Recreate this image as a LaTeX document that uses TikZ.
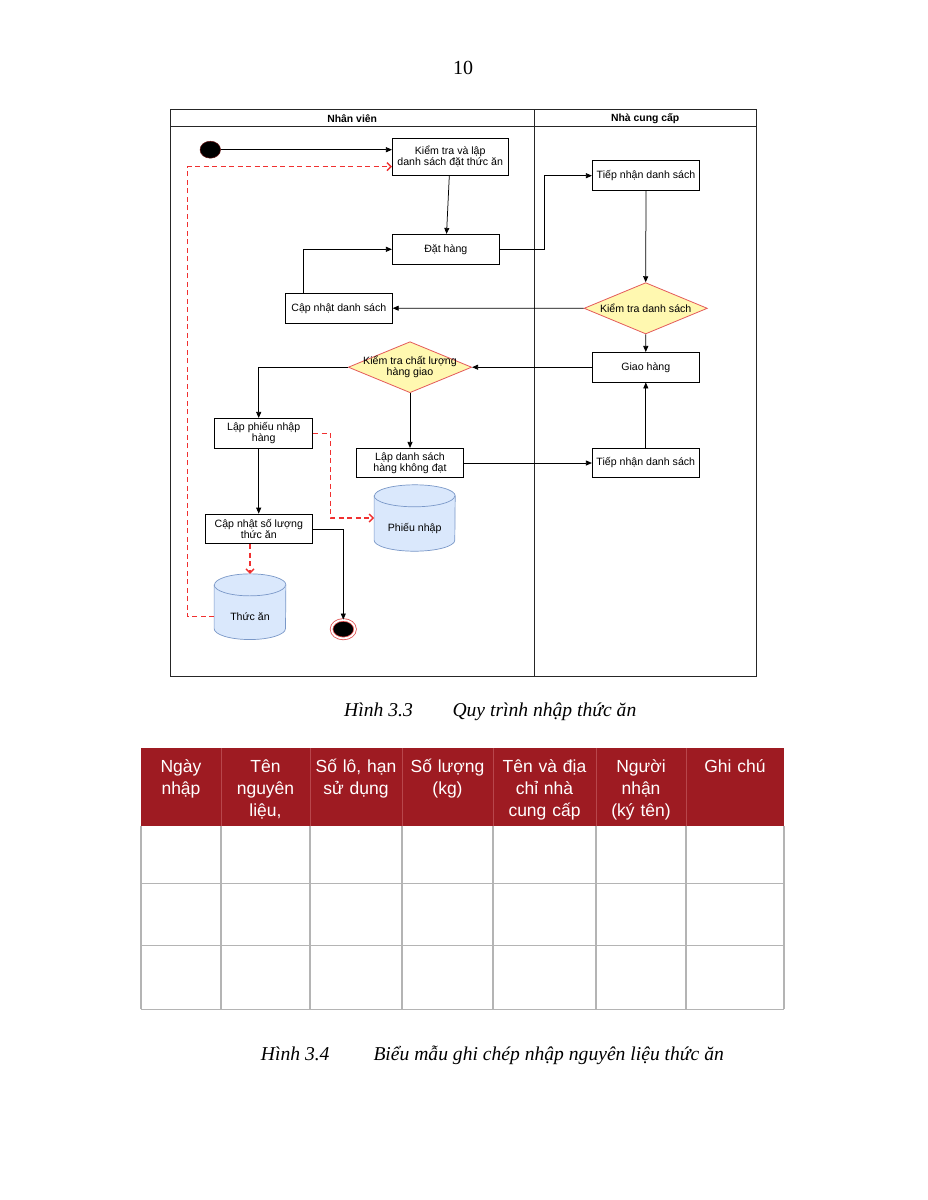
\documentclass[tikz,border=0pt]{standalone}
\usepackage{fontspec}
\setmainfont{Liberation Serif}
\newfontfamily\arialf{Liberation Sans}
\usetikzlibrary{shapes.geometric,arrows.meta,backgrounds}
\definecolor{hdrred}{HTML}{9E1B22}
\definecolor{hdrsep}{HTML}{B8464C}
\definecolor{gridgray}{HTML}{B4B4B4}
\definecolor{diafill}{HTML}{FFF8B0}
\definecolor{diaborder}{HTML}{E45A5A}
\definecolor{cylfill}{HTML}{DAE8FC}
\definecolor{cylborder}{HTML}{7A98C8}
\definecolor{dashred}{HTML}{F03030}
\definecolor{endred}{HTML}{E05050}
\definecolor{startborder}{HTML}{661010}
\newcommand\mycyl[3]{%
  \fill[cylfill] ([yshift=-#3pt]#1.north west) -- ([yshift=#3pt]#1.south west)
    arc[start angle=180,end angle=360,x radius=#2pt,y radius=#3pt]
    -- ([yshift=-#3pt]#1.north east)
    arc[start angle=0,end angle=180,x radius=#2pt,y radius=#3pt] -- cycle;
  \draw[cylborder,line width=0.7pt] ([yshift=-#3pt]#1.north west) -- ([yshift=#3pt]#1.south west)
    arc[start angle=180,end angle=360,x radius=#2pt,y radius=#3pt]
    -- ([yshift=-#3pt]#1.north east)
    arc[start angle=0,end angle=180,x radius=#2pt,y radius=#3pt] -- cycle;
  \draw[cylborder,line width=0.7pt] ([yshift=-#3pt]#1.north west)
    arc[start angle=180,end angle=360,x radius=#2pt,y radius=#3pt];
}
\begin{document}
\begin{tikzpicture}[x=1pt,y=-1pt,
  dfont/.style={font=\arialf\fontsize{10.6}{11}\selectfont},
  box/.style={draw, line width=0.75pt, fill=white, inner sep=1pt, align=center, dfont},
  dia/.style={diamond, draw=diaborder, fill=diafill, line width=0.8pt, inner sep=0pt},
  dtext/.style={align=center, inner sep=0pt, dfont},
  cylnode/.style={rectangle, inner sep=0pt},
  arr/.style={-{Triangle[length=6pt,width=5pt]}, line width=0.75pt},
  darr/.style={-{Straight Barb[length=4pt,width=8pt]}, dashred, line width=1.4pt, dash pattern=on 5pt off 3.5pt},
  lanest/.style={line width=0.9pt, black!85},
  thcell/.style={anchor=north, align=center, inner sep=0pt, text=white,
    font=\arialf\fontsize{17.5}{22}\selectfont},
  captxt/.style={font=\itshape\fontsize{19.6}{24}\selectfont, inner sep=0pt}
]
\useasboundingbox (0,0) rectangle (927,1200);

% page number
\node[font=\fontsize{20}{24}\selectfont, inner sep=0pt] (pg) at (463,68) {10};

% swimlanes
\draw[lanest] (170,109.7) rectangle (756,676);
\draw[lanest] (170,126.7) -- (756,126.7);
\draw[lanest] (534.5,109.7) -- (534.5,676);
\node[font=\arialf\bfseries\fontsize{10.4}{12}\selectfont, inner sep=0pt] (l1) at (352.2,118.2) {Nhân viên};
\node[font=\arialf\bfseries\fontsize{10.4}{12}\selectfont, inner sep=0pt] (l2) at (645.2,118.2) {Nhà cung cấp};

% nodes
\node[ellipse, fill=black, draw=startborder, line width=0.5pt, minimum width=20.5pt, minimum height=17pt, inner sep=0pt] (start) at (210.3,149.7) {};
\node[box, minimum width=115.7pt, minimum height=37.4pt] (box1) at (450.2,157) {Kiểm tra và lập\\danh sách đặt thức ăn};
\node[box, minimum width=107pt, minimum height=30pt] (order) at (445.8,249.3) {Đặt hàng};
\node[box, minimum width=107pt, minimum height=29.7pt] (upd) at (338.8,308.2) {Cập nhật danh sách};
\node[box, minimum width=107.4pt, minimum height=30pt] (recv1) at (646,175.7) {Tiếp nhận danh sách};
\node[dia, minimum width=123.3pt, minimum height=51.3pt,
  label={[dtext]center:Kiểm tra danh sách}] (chk) at (645.7,308.3) {};
\node[box, minimum width=107pt, minimum height=29.7pt] (deliv) at (645.8,367.2) {Giao hàng};
\node[dia, minimum width=123.4pt, minimum height=51pt,
  label={[dtext]center:{Kiểm tra chất lượng\\hàng giao}}] (qc) at (410,367.2) {};
\node[box, minimum width=98pt, minimum height=29.7pt] (lp) at (263.7,433.2) {Lập phiếu nhập\\hàng};
\node[box, minimum width=106.6pt, minimum height=29.4pt] (lds) at (410,463) {Lập danh sách\\hàng không đạt};
\node[box, minimum width=107pt, minimum height=29pt] (recv2) at (645.8,462.8) {Tiếp nhận danh sách};
\node[cylnode, minimum width=80.7pt, minimum height=66pt,
  label={[dtext,yshift=-11pt]center:Phiếu nhập}] (pn) at (414.65,518) {};
\node[box, minimum width=107pt, minimum height=29.7pt] (cn) at (258.8,528.9) {Cập nhật số lượng\\thức ăn};
\node[cylnode, minimum width=71.4pt, minimum height=65.3pt,
  label={[dtext,yshift=-10pt]center:Thức ăn}] (ta) at (250,606.7) {};
\node[ellipse, draw=endred, line width=0.8pt, double=white, double distance=1.8pt, fill=black,
  minimum width=23.5pt, minimum height=18.5pt, inner sep=0pt] (end) at (343.3,629.2) {};

\begin{scope}[on background layer]
  \fill[white] (0,0) rectangle (927,1200);
  \mycyl{pn}{40.35}{11}
  \mycyl{ta}{35.7}{11}
\end{scope}

\coordinate (loopc) at (187.3,166.7);

% connectors
\draw[arr] (start) -- (start -| box1.west);
\draw[darr] ([yshift=-10pt]ta.west) -| (loopc) -- (loopc -| box1.west);
\draw[arr] (box1) -- (order);
\draw[arr] ([xshift=-35.5pt]upd.north) |- (order.west);
\draw[arr] (order.east) -- ++(44.4,0) |- (recv1.west);
\draw[arr] (recv1.south) -- (chk.north);
\draw[arr] (chk.west) -- (upd.east);
\draw[arr] (chk.south) -- (deliv.north);
\draw[arr] (deliv.west) -- (qc.east);
\draw[arr] (qc.west) -| ([xshift=-5pt]lp.north);
\draw[arr] (qc.south) -- (lds.north);
\draw[arr] (lds.east) -- (lds.east -| recv2.west);
\draw[arr] (recv2.north) -- (deliv.south);
\draw[darr] (lp.east) -- ++(17.3,0) |- (pn.west);
\draw[arr] ([xshift=-5pt]lp.south) -- ([xshift=-5pt]lp.south |- cn.north);
\draw[darr] (cn.south -| ta.north) -- (ta.north);
\draw[arr] (cn.east) -| (end.north);

% caption 1
\node[captxt, anchor=base west] (c1a) at (344,716) {Hình 3.3};
\node[captxt, anchor=base west] (c1b) at (452.3,716) {Quy trình nhập thức ăn};

% table
\fill[hdrred] (141,748) rectangle (784,826);
\foreach \x in {221,310,402,493,596,686}{
  \draw[hdrsep, line width=0.8pt] (\x,748) -- (\x,826);
}
\foreach \x in {141,221,310,402,493,596,686,784}{
  \draw[gridgray, line width=1.1pt] (\x,826) -- (\x,1009.3);
}
\foreach \y in {883.5,945.3,1009.3}{
  \draw[gridgray, line width=1.1pt] (141,\y) -- (784,\y);
}
\node[thcell, text width=76pt] (h1) at (181,757) {\strut Ngày\\nhập};
\node[thcell, text width=85pt] (h2) at (265.5,757) {\strut Tên\\nguyên\\liệu,};
\node[thcell, text width=88pt] (h3) at (356,757) {\strut Số lô, hạn\\sử dụng};
\node[thcell, text width=87pt] (h4) at (447.5,757) {\strut Số lượng\\(kg)};
\node[thcell, text width=99pt] (h5) at (544.5,757) {\strut Tên và địa\\chỉ nhà\\cung cấp};
\node[thcell, text width=86pt] (h6) at (641,757) {\strut Người\\nhận\\(ký tên)};
\node[thcell, text width=94pt] (h7) at (735,757) {\strut Ghi chú};

% caption 2
\node[captxt, anchor=base west] (c2a) at (260.7,1060) {Hình 3.4};
\node[captxt, anchor=base west] (c2b) at (373.3,1060) {Biểu mẫu ghi chép nhập nguyên liệu thức ăn};
\end{tikzpicture}
\end{document}
